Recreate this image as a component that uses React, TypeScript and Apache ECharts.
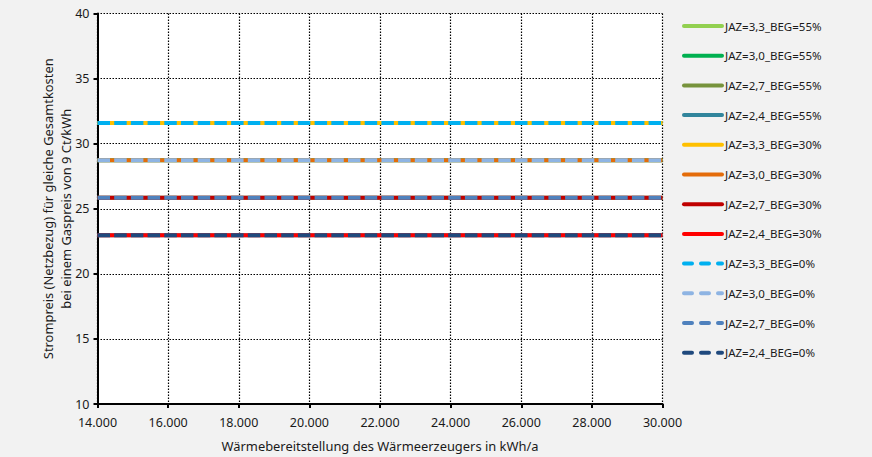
import React, { useEffect, useRef } from "react";
import * as echarts from "echarts";

const xRange = [14000, 30000];
const seriesNames = [
  "JAZ=3,3_BEG=55%",
  "JAZ=3,0_BEG=55%",
  "JAZ=2,7_BEG=55%",
  "JAZ=2,4_BEG=55%",
  "JAZ=3,3_BEG=30%",
  "JAZ=3,0_BEG=30%",
  "JAZ=2,7_BEG=30%",
  "JAZ=2,4_BEG=30%",
  "JAZ=3,3_BEG=0%",
  "JAZ=3,0_BEG=0%",
  "JAZ=2,7_BEG=0%",
  "JAZ=2,4_BEG=0%",
];
const seriesValues = [
  31.58, 28.72, 25.85, 22.97,
  31.58, 28.72, 25.85, 22.97,
  31.58, 28.72, 25.85, 22.97,
];
const seriesColors = [
  "#92D050", "#00B050", "#77933C", "#31859C",
  "#FFC000", "#E46C0A", "#C00000", "#FF0000",
  "#00B0F0", "#8EB4E3", "#4F81BD", "#1F497D",
];
const dashed = [false, false, false, false, false, false, false, false, true, true, true, true];

const FONT = "'Noto Sans', sans-serif";

export default function App() {
  const ref = useRef<HTMLDivElement>(null);
  useEffect(() => {
    const chart = echarts.init(ref.current!, null, { renderer: "svg" });
    chart.setOption({
      animation: false,
      backgroundColor: "#F2F2F2",
      grid: {
        left: 97.5,
        right: 209.5,
        top: 13.5,
        bottom: 53,
        show: true,
        backgroundColor: "#FFFFFF",
        borderWidth: 0,
      },
      legend: {
        orient: "vertical",
        left: 682,
        top: 20,
        padding: 0,
        itemWidth: 38,
        itemHeight: 14,
        itemGap: 17.7,
        data: seriesNames.map((name, i) =>
          dashed[i]
            ? { name, lineStyle: { type: [8, 9], cap: "round" } }
            : { name }
        ),
        itemStyle: { opacity: 0 },
        lineStyle: { width: 4, cap: "round" },
        textStyle: { fontFamily: FONT, fontSize: 11.5, color: "#1a1a1a", padding: [0, 0, 0, -2] },
      },
      xAxis: {
        type: "value",
        min: 14000,
        max: 30000,
        interval: 2000,
        name: "Wärmebereitstellung des Wärmeerzeugers in kWh/a",
        nameLocation: "middle",
        nameGap: 35,
        nameTextStyle: { fontFamily: FONT, fontSize: 12.9, color: "#1a1a1a" },
        axisLine: { show: true, onZero: false, lineStyle: { color: "#000", width: 2 } },
        axisTick: { show: true, inside: false, length: 4, lineStyle: { color: "#000", width: 2 } },
        axisLabel: {
          fontFamily: FONT,
          fontSize: 12.5,
          color: "#1a1a1a",
          margin: 12,
          formatter: (v: number) => {
            const s = String(Math.round(v));
            return s.replace(/\B(?=(\d{3})+(?!\d))/g, ".");
          },
        },
        splitLine: { show: true, lineStyle: { color: "#000", type: [1.5, 1.5], width: 1.2 } },
      },
      yAxis: {
        type: "value",
        min: 10,
        max: 40,
        interval: 5,
        name: "Strompreis (Netzbezug) für gleiche Gesamtkosten\nbei einem Gaspreis von 9 Ct/kWh",
        nameLocation: "middle",
        nameGap: 23,
        nameMoveOverlap: false,
        nameRotate: 90,
        nameTextStyle: { fontFamily: FONT, fontSize: 12.9, color: "#1a1a1a", lineHeight: 18 },
        axisLine: { show: true, onZero: false, lineStyle: { color: "#000", width: 2 } },
        axisTick: { show: true, inside: false, length: 4, lineStyle: { color: "#000", width: 2 } },
        axisLabel: { fontFamily: FONT, fontSize: 12.5, color: "#1a1a1a", margin: 8 },
        splitLine: { show: true, lineStyle: { color: "#000", type: [1.5, 1.5], width: 1.2 } },
      },
      series: seriesNames.map((name, i) => ({
        name,
        type: "line",
        data: xRange.map((x) => [x, seriesValues[i]]),
        symbol: "none",
        showSymbol: false,
        color: seriesColors[i],
        lineStyle: {
          color: seriesColors[i],
          width: 4,
          type: dashed[i] ? [12.5, 4.2] : "solid",
          cap: "butt",
        },
        z: 2 + i,
      })),
    });
    return () => chart.dispose();
  }, []);
  return (
    <div
      ref={ref}
      style={{ position: "fixed", left: 0, top: 0, width: 872, height: 457 }}
    />
  );
}
